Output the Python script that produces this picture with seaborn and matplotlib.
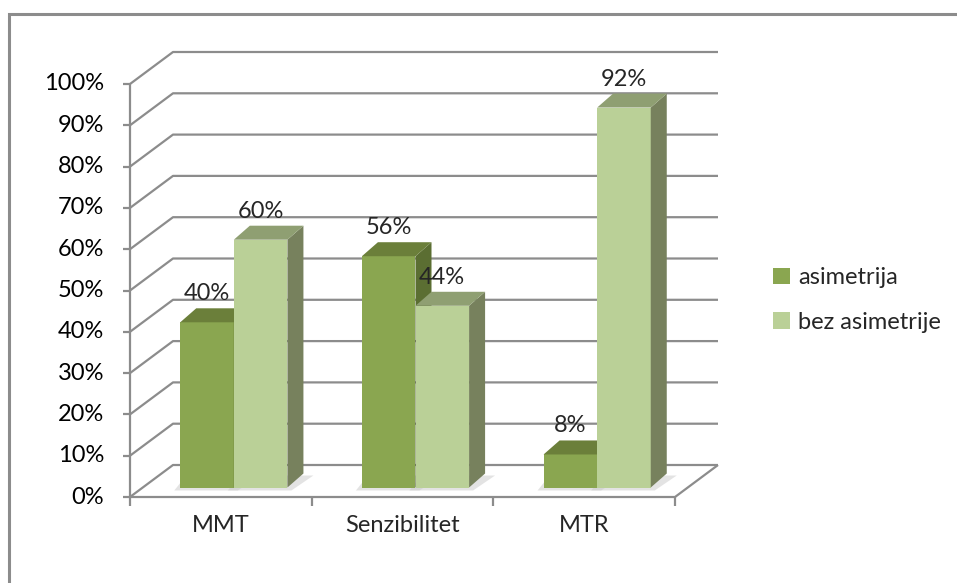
import matplotlib
matplotlib.use('Agg')
import matplotlib.pyplot as plt
import seaborn as sns
import pandas as pd
from matplotlib.patches import Polygon, Rectangle
from matplotlib.lines import Line2D
from matplotlib.transforms import Affine2D, IdentityTransform

categories = ['MMT', 'Senzibilitet', 'MTR']
series_names = ['asimetrija', 'bez asimetrije']
asimetrija = [40, 56, 8]
bez_asimetrije = [60, 44, 92]
yticks = [0, 10, 20, 30, 40, 50, 60, 70, 80, 90, 100]
ytick_labels = ['0%', '10%', '20%', '30%', '40%', '50%', '60%', '70%', '80%', '90%', '100%']

front_colors = ['#8aa650', '#bad097']
top_colors = ['#6b7f3a', '#8f9f72']
side_colors = ['#5b6e32', '#77815d']
grid_color = '#8c8c8c'

sns.set_style('white')
plt.rcParams['font.family'] = ['Lato', 'DejaVu Sans']
FS = 17

W, H = 957, 583
fig = plt.figure(figsize=(W / 100, H / 100), dpi=100)
fig.patch.set_facecolor('white')
# axes front plane: x 130..675, y 497 (0%) .. 84 (100%)
ax = fig.add_axes([130 / W, 1 - 497 / H, 545 / W, 413 / H])

df = pd.DataFrame({
    'cat': categories * 2,
    'series': [series_names[0]] * len(categories) + [series_names[1]] * len(categories),
    'val': asimetrija + bez_asimetrije,
})
sns.barplot(data=df, x='cat', y='val', hue='series', hue_order=series_names,
            palette=front_colors, saturation=1, width=0.59, ax=ax,
            legend=False, errorbar=None, linewidth=0)
ax.set_xlim(-0.5, len(categories) - 0.5)
ax.set_ylim(0, 100)
ax.axis('off')

ID = IdentityTransform()
DX, DY = 43, 32          # wall depth (pixels)
BX, BY = 13, 9.5         # bar offset into depth
SX, SY = 16, 14          # bar depth


def disp(x, y):
    return ax.transData.transform((x, y))


def line(xs, ys, z=1, lw=1.6):
    ax.add_line(Line2D(xs, ys, transform=ID, color=grid_color, lw=lw,
                       zorder=z, clip_on=False, solid_capstyle='butt'))


# back wall gridlines + side diagonals
for v, lab in zip(yticks, ytick_labels):
    x0, y0 = disp(-0.5, v)
    x1, _ = disp(len(categories) - 0.5, v)
    line([x0, x0 + DX, x1 + DX], [y0, y0 + DY, y0 + DY])
    line([x0 - 7, x0], [y0, y0])
    ax.text(x0 - 26, y0, lab, transform=ID, ha='right', va='center',
            fontsize=FS, color='black', clip_on=False)

# left axis line
xa, ya0 = disp(-0.5, 0)
_, ya1 = disp(-0.5, 100)
line([xa, xa], [ya0, ya1], z=2)
# floor front edge and right edge
xr, _ = disp(len(categories) - 0.5, 0)
line([xa, xr, xr + DX], [ya0, ya0, ya0 + DY], z=2)
# category ticks
for b in range(len(categories) + 1):
    xb, _ = disp(b - 0.5, 0)
    line([xb, xb], [ya0, ya0 - 9], z=2)
# category labels
for i, c in enumerate(categories):
    xc, _ = disp(i, 0)
    ax.text(xc, H - 526, c, transform=ID, ha='center', va='center', fontsize=FS, clip_on=False)

# bars with 3D faces
bars = [p for p in ax.patches if isinstance(p, Rectangle)]
n = len(categories)
for idx, p in enumerate(bars):
    s = idx // n
    p.set_transform(ax.transData + Affine2D().translate(BX, BY))
    p.set_zorder(3 + s)
    x, w, h = p.get_x(), p.get_width(), p.get_height()
    xl, yb = disp(x, 0)
    xr2, yt = disp(x + w, h)
    xl += BX; xr2 += BX; yb += BY; yt += BY
    # soft shadow on floor
    ax.add_patch(Polygon([(xl - 6, yb - 3), (xr2 + 4, yb - 3), (xr2 + SX + 10, yb + SY - 2), (xl + 6, yb + SY - 2)],
                         closed=True, transform=ID, facecolor='#c8c8c8', edgecolor='none',
                         alpha=0.5, zorder=2.5, clip_on=False))
    ax.add_patch(Polygon([(xr2, yb), (xr2, yt), (xr2 + SX, yt + SY), (xr2 + SX, yb + SY)],
                         closed=True, transform=ID, facecolor=side_colors[s], edgecolor='none',
                         zorder=3 + s, clip_on=False))
    ax.add_patch(Polygon([(xl, yt), (xr2, yt), (xr2 + SX, yt + SY), (xl + SX, yt + SY)],
                         closed=True, transform=ID, facecolor=top_colors[s], edgecolor='none',
                         zorder=3 + s, clip_on=False))
    ax.text((xl + xr2) / 2, yt + SY + 4, f'{int(round(h))}%', transform=ID,
            ha='center', va='bottom', fontsize=FS, zorder=6, clip_on=False)

# legend
handles = [Rectangle((0, 0), 1, 1, facecolor=c, edgecolor='none') for c in front_colors]
fig.legend(handles, series_names, loc='center left',
           bbox_to_anchor=(752 / W, 1 - 300 / H), frameon=False, fontsize=FS,
           handlelength=0.7, handleheight=0.7, handletextpad=0.35, labelspacing=1.0)

# outer border
fig.add_artist(Rectangle((9, H - 14 - 600), 1000, 600, transform=ID, facecolor='none',
                         edgecolor=grid_color, lw=2.2, zorder=0))

fig.savefig('out.png', dpi=100, facecolor='white')
